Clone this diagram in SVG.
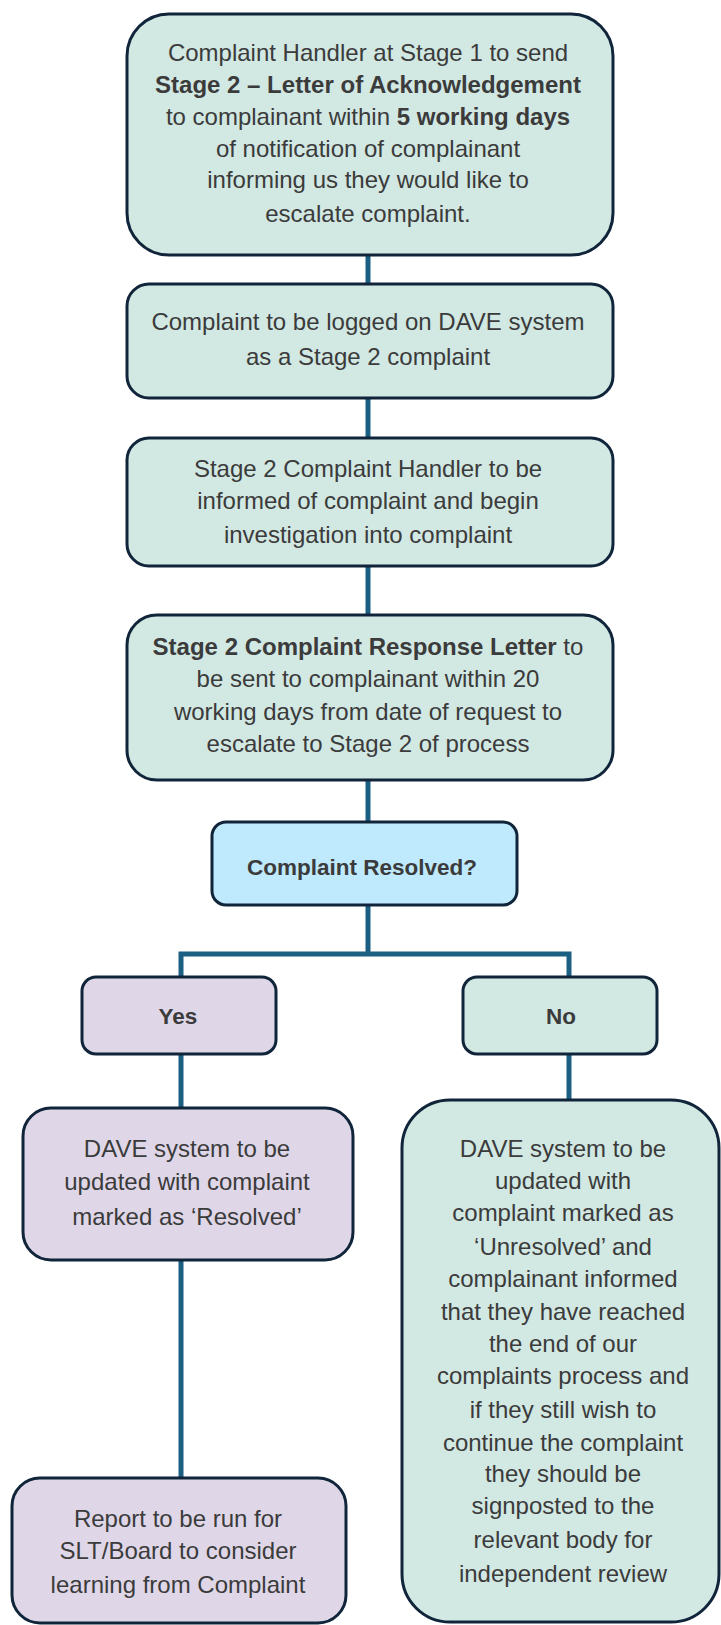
<svg xmlns="http://www.w3.org/2000/svg" width="721" height="1625" viewBox="0 0 721 1625">
<style>
.box{stroke:#10253a;stroke-width:3}
.teal{fill:#d2e8e3}
.purple{fill:#dfd7e8}
.blue{fill:#bfe9fc}
.t{font-family:"Liberation Sans",Arial,sans-serif;font-size:24px;fill:#3b3b3b;text-anchor:middle}
.s{font-size:22.5px}
.b{font-weight:bold}
.con{stroke:#1b5f82;stroke-width:5;fill:none}
</style>
<rect width="721" height="1625" fill="#ffffff"/>
<g id="connectors">
<line class="con" x1="368" y1="254" x2="368" y2="285"/>
<line class="con" x1="368" y1="397" x2="368" y2="439"/>
<line class="con" x1="368" y1="565" x2="368" y2="616"/>
<line class="con" x1="368" y1="779" x2="368" y2="823"/>
<line class="con" x1="368" y1="904" x2="368" y2="954"/>
<polyline class="con" points="181,978 181,954 569,954 569,978"/>
<line class="con" x1="181" y1="1053" x2="181" y2="1109"/>
<line class="con" x1="569" y1="1053" x2="569" y2="1101"/>
<line class="con" x1="181" y1="1259" x2="181" y2="1479"/>
</g>
<g id="node1">
<rect class="box teal" x="127" y="14" width="486" height="241" rx="42"/>
<text class="t" x="368" y="61">Complaint Handler at Stage 1 to send</text>
<text class="t b" x="368" y="93">Stage 2 – Letter of Acknowledgement</text>
<text class="t" x="368" y="125">to complainant within <tspan class="b">5 working days</tspan></text>
<text class="t" x="368" y="157">of notification of complainant</text>
<text class="t" x="368" y="188">informing us they would like to</text>
<text class="t" x="368" y="222">escalate complaint.</text>
</g>
<g id="node2">
<rect class="box teal" x="127" y="284" width="486" height="114" rx="22"/>
<text class="t" x="368" y="330">Complaint to be logged on DAVE system</text>
<text class="t" x="368" y="365">as a Stage 2 complaint</text>
</g>
<g id="node3">
<rect class="box teal" x="127" y="438" width="486" height="128" rx="22"/>
<text class="t" x="368" y="477">Stage 2 Complaint Handler to be</text>
<text class="t" x="368" y="509">informed of complaint and begin</text>
<text class="t" x="368" y="543">investigation into complaint</text>
</g>
<g id="node4">
<rect class="box teal" x="127" y="615" width="486" height="165" rx="30"/>
<text class="t" x="368" y="655"><tspan class="b">Stage 2 Complaint Response Letter</tspan> to</text>
<text class="t" x="368" y="687">be sent to complainant within 20</text>
<text class="t" x="368" y="720">working days from date of request to</text>
<text class="t" x="368" y="752">escalate to Stage 2 of process</text>
</g>
<g id="decision">
<rect class="box blue" x="212" y="822" width="305" height="83" rx="14"/>
<text class="t b s" x="362" y="875">Complaint Resolved?</text>
</g>
<g id="yes">
<rect class="box purple" x="82" y="977" width="194" height="77" rx="14"/>
<text class="t b s" x="178" y="1024">Yes</text>
</g>
<g id="no">
<rect class="box teal" x="463" y="977" width="194" height="77" rx="14"/>
<text class="t b s" x="561" y="1024">No</text>
</g>
<g id="resolved">
<rect class="box purple" x="23" y="1108" width="330" height="152" rx="28"/>
<text class="t" x="187" y="1157">DAVE system to be</text>
<text class="t" x="187" y="1190">updated with complaint</text>
<text class="t" x="187" y="1225">marked as ‘Resolved’</text>
</g>
<g id="unresolved">
<rect class="box teal" x="402" y="1100" width="317" height="522" rx="48"/>
<text class="t" x="563" y="1157">DAVE system to be</text>
<text class="t" x="563" y="1189">updated with</text>
<text class="t" x="563" y="1221">complaint marked as</text>
<text class="t" x="563" y="1255">‘Unresolved’ and</text>
<text class="t" x="563" y="1287">complainant informed</text>
<text class="t" x="563" y="1320">that they have reached</text>
<text class="t" x="563" y="1352">the end of our</text>
<text class="t" x="563" y="1384">complaints process and</text>
<text class="t" x="563" y="1418">if they still wish to</text>
<text class="t" x="563" y="1451">continue the complaint</text>
<text class="t" x="563" y="1482">they should be</text>
<text class="t" x="563" y="1514">signposted to the</text>
<text class="t" x="563" y="1548">relevant body for</text>
<text class="t" x="563" y="1582">independent review</text>
</g>
<g id="report">
<rect class="box purple" x="12" y="1478" width="334" height="145" rx="28"/>
<text class="t" x="178" y="1527">Report to be run for</text>
<text class="t" x="178" y="1559">SLT/Board to consider</text>
<text class="t" x="178" y="1593">learning from Complaint</text>
</g>
</svg>
